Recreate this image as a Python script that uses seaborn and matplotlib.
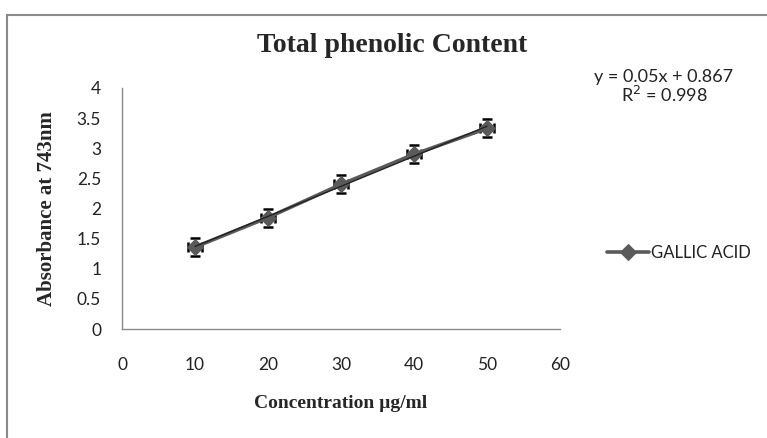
import matplotlib
matplotlib.use('Agg')
import matplotlib.pyplot as plt
import seaborn as sns
import pandas as pd
from matplotlib.patches import Rectangle

# values
concentration = [10, 20, 30, 40, 50]
absorbance = [1.36, 1.85, 2.40, 2.90, 3.33]
absorbance_err = [0.15, 0.15, 0.15, 0.15, 0.15]
concentration_err = [1.0, 1.0, 1.0, 1.0, 1.0]
x_ticks = [0, 10, 20, 30, 40, 50, 60]
y_ticks = [0, 0.5, 1, 1.5, 2, 2.5, 3, 3.5, 4]
y_tick_labels = ['0', '0.5', '1', '1.5', '2', '2.5', '3', '3.5', '4']
series_name = 'GALLIC ACID'
equation_text = 'y = 0.05x + 0.867\nR$^2$ = 0.998'

df = pd.DataFrame({'conc': concentration, 'abs': absorbance})

sns.set_style('white')
plt.rcParams['font.family'] = ['Lato', 'DejaVu Sans']

fig = plt.figure(figsize=(7.67, 4.38), dpi=100)
ax = fig.add_axes([122 / 767, 1 - 329 / 438, 438 / 767, 241 / 438])

gray = '#5a5a5a'
ax.errorbar(concentration, absorbance, yerr=absorbance_err, xerr=concentration_err,
            fmt='none', ecolor='black', elinewidth=1, capsize=3.5, capthick=1.8, zorder=1)
sns.lineplot(data=df, x='conc', y='abs', ax=ax, color=gray, linewidth=2.6,
             marker='D', markersize=8, markeredgecolor=gray, label=series_name, zorder=2)
# linear trendline
sns.regplot(data=df, x='conc', y='abs', ax=ax, scatter=False, ci=None,
            truncate=True, line_kws={'color': '#222222', 'linewidth': 1, 'zorder': 3})

ax.set_xlim(0, 60)
ax.set_ylim(0, 4)
ax.set_xticks(x_ticks)
ax.set_yticks(y_ticks)
ax.set_yticklabels(y_tick_labels)
ax.tick_params(axis='x', length=0, pad=20, labelsize=12.5, colors='#222222')
ax.tick_params(axis='y', length=0, pad=15, labelsize=12.5, colors='#222222')
for side in ['top', 'right']:
    ax.spines[side].set_visible(False)
for side in ['left', 'bottom']:
    ax.spines[side].set_color('#8a8a8a')
    ax.spines[side].set_linewidth(1)

serif = ['Liberation Serif', 'DejaVu Serif']
ax.set_xlabel('Concentration µg/ml', family=serif, fontweight='bold', fontsize=14, va='center')
ax.xaxis.set_label_coords(0.5, (329 - 403) / 241)
ax.set_ylabel('Absorbance at 743nm', family=serif, fontweight='bold', fontsize=15, va='center')
ax.yaxis.set_label_coords((47 - 122) / 438, 0.5)

fig.text(392 / 767, 1 - 46 / 438, 'Total phenolic Content', family=serif,
         fontweight='bold', fontsize=20, ha='center', va='center')
fig.text(664 / 767, 1 - 87 / 438, equation_text, fontsize=13, ha='center',
         va='center', multialignment='center', linespacing=0.95, color='#222222')

ax.legend(loc='center left', bbox_to_anchor=(592 / 767, 1 - 253 / 438),
          bbox_transform=fig.transFigure, frameon=False, fontsize=12,
          handlelength=2.5, handletextpad=0.15, labelcolor='#222222')

# outer chart frame
fig.patches.append(Rectangle((7 / 767, -0.1), 1.2, 0.1 + (438 - 15) / 438,
                             transform=fig.transFigure, fill=False,
                             edgecolor='#8a8a8a', linewidth=1.5))

fig.savefig('out.png', dpi=100)
